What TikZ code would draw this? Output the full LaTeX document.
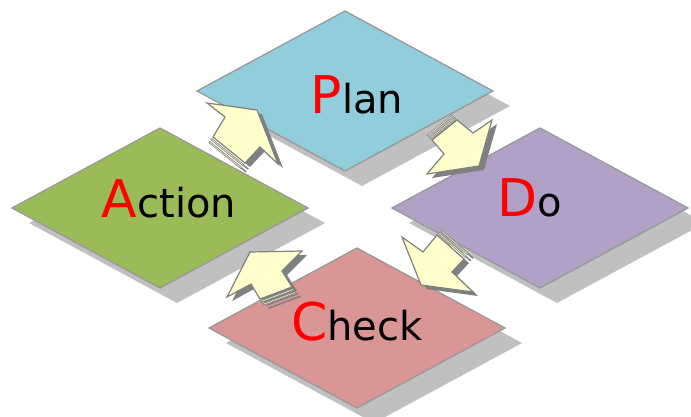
\documentclass[tikz,border=0pt]{standalone}
\usepackage{fontspec}
\setmainfont{DejaVu Sans}
\usetikzlibrary{shapes.geometric,shadows,calc}
\definecolor{planblue}{HTML}{92CDDC}
\definecolor{doviolet}{HTML}{B2A1C7}
\definecolor{checkred}{HTML}{D99694}
\definecolor{actgreen}{HTML}{9BBB59}
\definecolor{boxshade}{HTML}{C0C0C0}
\definecolor{boxline}{HTML}{999999}
\definecolor{arrowfill}{HTML}{FFFFCC}
\definecolor{arrowline}{HTML}{808080}
\newcommand\initial[1]{{\color{red}\fontsize{52}{52}\selectfont #1}}
\begin{document}
\begin{tikzpicture}[x=1pt,y=-1pt,
  stepbox/.style={diamond,draw=boxline,line width=1.3pt,inner sep=0pt,outer sep=0pt,
    minimum width=296pt,minimum height=160pt,
    drop shadow={shadow xshift=17pt,shadow yshift=-15pt,fill=boxshade,opacity=1}},
  steplabel/.style={anchor=base,inner sep=0pt,font=\fontsize{40}{40}\selectfont},
  arrowbody/.style={fill=arrowfill,draw=arrowline,line width=1.2pt},
  arrowshade/.style={fill=arrowline}]
  \useasboundingbox (0,0) rectangle (691,416);
  \node[stepbox,fill=planblue] (plan) at (345,91) {};
  \node[stepbox,fill=doviolet] (do) at (540,208) {};
  \node[stepbox,fill=checkred] (check) at (357,328) {};
  \node[stepbox,fill=actgreen] (action) at (160,208) {};
  \node[steplabel] (plantxt) at (357,113) {\initial{P}lan};
  \node[steplabel] (dotxt) at (530,216) {\initial{D}o};
  \node[steplabel] (checktxt) at (357,340) {\initial{C}heck};
  \node[steplabel] (actiontxt) at (169,217) {\initial{A}ction};
  % block arrows
  \coordinate (AP1) at (207,103); \coordinate (AP2) at (257,110); \coordinate (AP3) at (278,164);
  \coordinate (AP4) at (260,147); \coordinate (AP5) at (245,163); \coordinate (AP6) at (213,137);
  \coordinate (AP7) at (225,117);
  \coordinate (PD1) at (492,120); \coordinate (PD2) at (479,166); \coordinate (PD3) at (427,174);
  \coordinate (PD4) at (444,154); \coordinate (PD5) at (432,140); \coordinate (PD6) at (457,120);
  \coordinate (PD7) at (473,133);
  \coordinate (DC1) at (402,237); \coordinate (DC2) at (421,285); \coordinate (DC3) at (473,292);
  \coordinate (DC4) at (452,272); \coordinate (DC5) at (464,259); \coordinate (DC6) at (437,235);
  \coordinate (DC7) at (423,252);
  \coordinate (CA1) at (227,297); \coordinate (CA2) at (250,252); \coordinate (CA3) at (302,251);
  \coordinate (CA4) at (282,271); \coordinate (CA5) at (292,287); \coordinate (CA6) at (260,299);
  \coordinate (CA7) at (251,284);
  \foreach \ar/\dx/\dy in {AP/-0.6/0.8,PD/-0.72/-0.69,DC/0.65/-0.76,CA/0.53/0.85} {
    \begin{scope}[transform canvas={shift={(5,4)}}]
      \fill[arrowshade] (\ar1)--(\ar2)--(\ar3)--(\ar4)--(\ar5)--(\ar6)--(\ar7)--cycle;
      \foreach \a/\b in {2/3.5,5.5/7}
        \fill[arrowshade] ($(\ar5)+(\a*\dx,\a*\dy)$)--($(\ar6)+(\a*\dx,\a*\dy)$)
          --($(\ar6)+(\b*\dx,\b*\dy)$)--($(\ar5)+(\b*\dx,\b*\dy)$)--cycle;
    \end{scope}
    \foreach \a/\b in {2/3.5,5.5/7}
      \filldraw[arrowbody,line width=.6pt] ($(\ar5)+(\a*\dx,\a*\dy)$)--($(\ar6)+(\a*\dx,\a*\dy)$)
        --($(\ar6)+(\b*\dx,\b*\dy)$)--($(\ar5)+(\b*\dx,\b*\dy)$)--cycle;
    \filldraw[arrowbody] (\ar1)--(\ar2)--(\ar3)--(\ar4)--(\ar5)--(\ar6)--(\ar7)--cycle;
  }
\end{tikzpicture}
\end{document}
